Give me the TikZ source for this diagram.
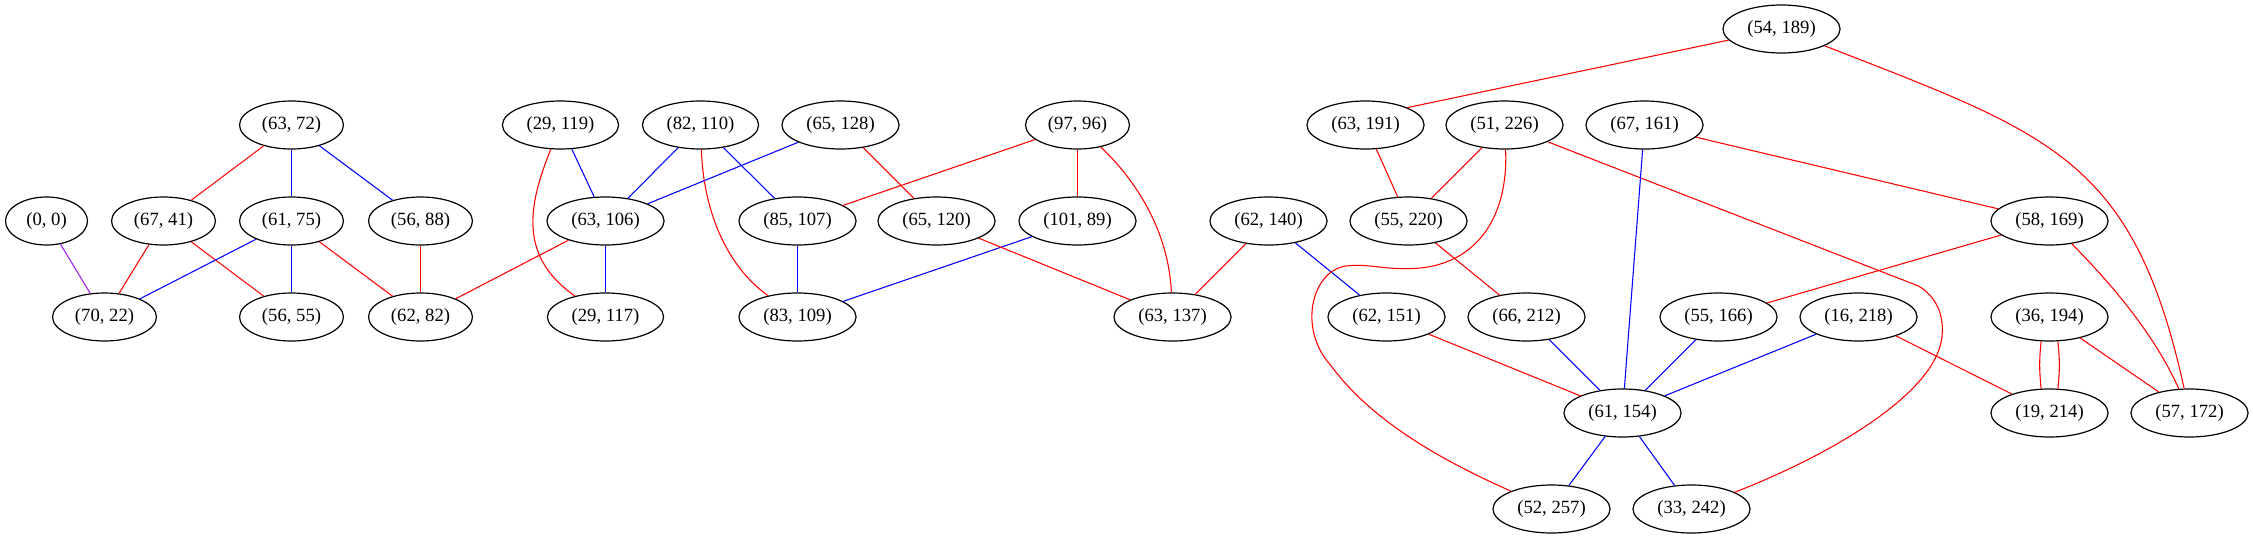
\documentclass[tikz,border=0pt]{standalone}
\usepackage{fontspec}
\setmainfont{Liberation Serif}
\usetikzlibrary{shapes.geometric}
\definecolor{gvpurple}{HTML}{A020F0}
\definecolor{gvred}{HTML}{FF0000}
\definecolor{gvblue}{HTML}{0000FF}
\begin{document}
\begin{tikzpicture}[x=0.75pt,y=-0.75pt,
  gnode/.style={draw=black, line width=0.9pt, ellipse, inner xsep=5.4pt, inner ysep=2pt,
    minimum height=36pt, minimum width=61.5pt, font=\fontsize{14pt}{16pt}\selectfont},
  redge/.style={draw=gvred, line width=0.8pt},
  bedge/.style={draw=gvblue, line width=0.8pt},
  pedge/.style={draw=gvpurple, line width=0.8pt}]
\useasboundingbox (0,0) rectangle (2253,539);
\fill[white] (0,0) rectangle (2253,539);
\begin{scope}[shift={(0.5,0)}]
% rank 0
\node[gnode] (n54x189) at (1781,29) {(54, 189)};
% rank 1
\node[gnode] (n63x72) at (291,125) {(63, 72)};
\node[gnode] (n29x119) at (560,125) {(29, 119)};
\node[gnode] (n82x110) at (700,125) {(82, 110)};
\node[gnode] (n65x128) at (840,125) {(65, 128)};
\node[gnode] (n97x96) at (1077,125) {(97, 96)};
\node[gnode] (n63x191) at (1365,125) {(63, 191)};
\node[gnode] (n51x226) at (1504,125) {(51, 226)};
\node[gnode] (n67x161) at (1644,125) {(67, 161)};
% rank 2
\node[gnode] (n0x0) at (46,221) {(0, 0)};
\node[gnode] (n67x41) at (163,221) {(67, 41)};
\node[gnode] (n61x75) at (291,221) {(61, 75)};
\node[gnode] (n56x88) at (420,221) {(56, 88)};
\node[gnode] (n63x106) at (605,221) {(63, 106)};
\node[gnode] (n85x107) at (797,221) {(85, 107)};
\node[gnode] (n65x120) at (936,221) {(65, 120)};
\node[gnode] (n101x89) at (1077,221) {(101, 89)};
\node[gnode] (n62x140) at (1268,221) {(62, 140)};
\node[gnode] (n55x220) at (1408,221) {(55, 220)};
\node[gnode] (n58x169) at (2049,221) {(58, 169)};
% rank 3
\node[gnode] (n70x22) at (104,317) {(70, 22)};
\node[gnode] (n56x55) at (291,317) {(56, 55)};
\node[gnode] (n62x82) at (420,317) {(62, 82)};
\node[gnode] (n29x117) at (605,317) {(29, 117)};
\node[gnode] (n83x109) at (797,317) {(83, 109)};
\node[gnode] (n63x137) at (1172,317) {(63, 137)};
\node[gnode] (n62x151) at (1386,317) {(62, 151)};
\node[gnode] (n66x212) at (1526,317) {(66, 212)};
\node[gnode] (n55x166) at (1718,317) {(55, 166)};
\node[gnode] (n16x218) at (1858,317) {(16, 218)};
\node[gnode] (n36x194) at (2049,317) {(36, 194)};
% rank 4
\node[gnode] (n61x154) at (1622,413) {(61, 154)};
\node[gnode] (n19x214) at (2049,413) {(19, 214)};
\node[gnode] (n57x172) at (2189,413) {(57, 172)};
% rank 5
\node[gnode] (n52x257) at (1551,509) {(52, 257)};
\node[gnode] (n33x242) at (1691,509) {(33, 242)};

% edges, left part
\draw[pedge] (n0x0) -- (n70x22);
\draw[redge] (n63x72) -- (n67x41);
\draw[bedge] (n63x72) -- (n61x75);
\draw[bedge] (n63x72) -- (n56x88);
\draw[redge] (n67x41) -- (n70x22);
\draw[redge] (n67x41) -- (n56x55);
\draw[bedge] (n61x75) -- (n70x22);
\draw[bedge] (n61x75) -- (n56x55);
\draw[redge] (n61x75) -- (n62x82);
\draw[redge] (n56x88) -- (n62x82);
\draw[bedge] (n29x119) -- (n63x106);
\draw[redge] (n29x119) .. controls (530,200) and (515,255) .. (n29x117);
\draw[bedge] (n82x110) -- (n63x106);
\draw[bedge] (n82x110) -- (n85x107);
\draw[redge] (n82x110) .. controls (703,210) and (725,265) .. (n83x109);
\draw[bedge] (n65x128) -- (n63x106);
\draw[redge] (n65x128) -- (n65x120);
\draw[redge] (n63x106) -- (n62x82);
\draw[bedge] (n63x106) -- (n29x117);
\draw[redge] (n97x96) -- (n85x107);
\draw[redge] (n97x96) -- (n101x89);
\draw[redge] (n97x96) .. controls (1135,180) and (1168,230) .. (n63x137);
\draw[bedge] (n85x107) -- (n83x109);
\draw[bedge] (n101x89) -- (n83x109);
\draw[redge] (n65x120) -- (n63x137);
\draw[redge] (n62x140) -- (n63x137);
\draw[bedge] (n62x140) -- (n62x151);
% edges, right part
\draw[redge] (n54x189) -- (n63x191.north east);
\draw[redge] (n54x189) .. controls (2050,134) and (2133,158) .. (n57x172);
\draw[redge] (n63x191) -- (n55x220);
\draw[redge] (n51x226) -- (n55x220);
\draw[redge] (n51x226) .. controls (1508,215) and (1478,262) .. (1420,268)
  .. controls (1385,271) and (1370,263) .. (1345,266)
  .. controls (1310,272) and (1298,330) .. (1330,365)
  .. controls (1370,420) and (1440,460) .. (n52x257);
\draw[redge] (n51x226) -- (1918,286) .. controls (1935,296) and (1945,315) .. (1941,340)
  .. controls (1932,395) and (1830,455) .. (n33x242);
\draw[redge] (n67x161) -- (n58x169);
\draw[bedge] (n67x161) -- (n61x154);
\draw[redge] (n55x220) -- (n66x212);
\draw[redge] (n58x169) -- (n55x166);
\draw[redge] (n58x169) .. controls (2095,268) and (2150,325) .. (n57x172);
\draw[redge] (n62x151) -- (n61x154);
\draw[bedge] (n66x212) -- (n61x154);
\draw[bedge] (n55x166) -- (n61x154);
\draw[bedge] (n16x218) -- (n61x154);
\draw[redge] (n16x218) -- (n19x214);
\draw[redge] (n36x194.-109) to[bend right=6] (n19x214.109);
\draw[redge] (n36x194.-71) to[bend left=6] (n19x214.71);
\draw[redge] (n36x194) -- (n57x172);
\draw[bedge] (n61x154) -- (n52x257);
\draw[bedge] (n61x154) -- (n33x242);
\end{scope}
\end{tikzpicture}
\end{document}
